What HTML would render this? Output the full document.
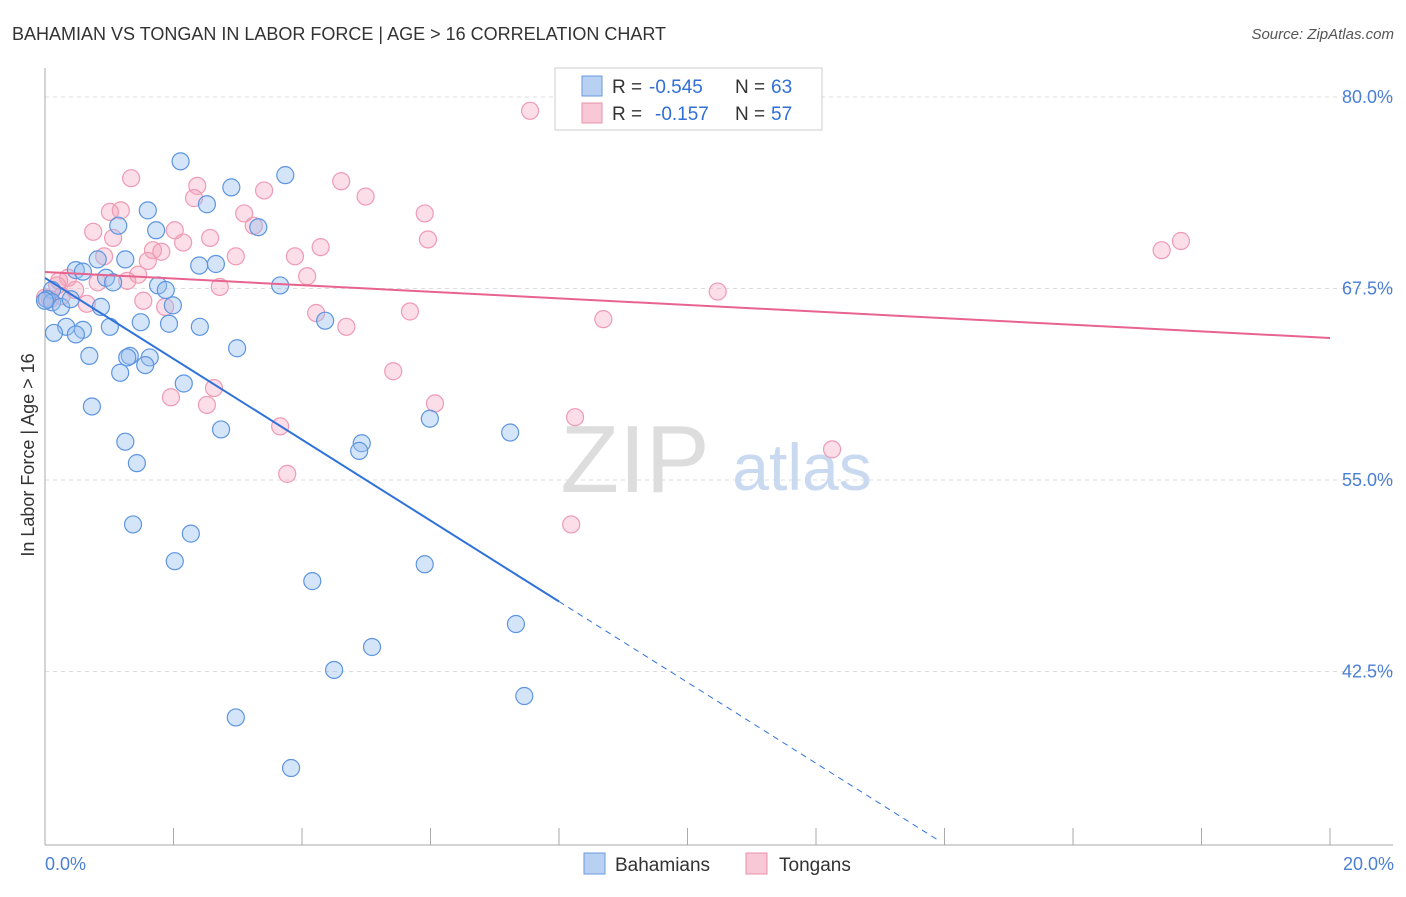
<!DOCTYPE html>
<html><head><meta charset="utf-8"><style>
body{margin:0;background:#fff;font-family:"Liberation Sans",sans-serif;overflow:hidden;}
svg text{font-family:"Liberation Sans",sans-serif;}
</style></head><body>
<svg width="1406" height="892">
<text x="12" y="40" font-size="18" fill="#333">BAHAMIAN VS TONGAN IN LABOR FORCE | AGE &gt; 16 CORRELATION CHART</text>
<text x="1394" y="39" font-size="15" fill="#555" text-anchor="end" font-style="italic">Source: ZipAtlas.com</text>
<g id="grid"></g>
<text x="635" y="492" font-size="96" fill="#ddd" font-family="Liberation Serif" text-anchor="middle">ZIP</text>
<text x="802" y="490" font-size="66" fill="#c9d9f0" text-anchor="middle">atlas</text>
<g id="pts"></g>
<g id="lines"></g>
<text x="34" y="455" font-size="18" fill="#333" text-anchor="middle" transform="rotate(-90 34 455)">In Labor Force | Age &gt; 16</text>
<text x="45" y="870" font-size="18" fill="#4a7fd4">0.0%</text>
<text x="1394" y="870" font-size="18" fill="#4a7fd4" text-anchor="end">20.0%</text>
<g>
<rect x="555" y="68" width="267" height="62" fill="#fff" stroke="#ccc"/>
<rect x="582" y="76" width="20" height="20" fill="#b8d0f2" stroke="#6a9ae0"/>
<rect x="582" y="103" width="20" height="20" fill="#f8c8d6" stroke="#e890ab"/>
<text x="612" y="93" font-size="19" fill="#333">R =</text>
<text x="649" y="93" font-size="19" fill="#2f6fd6">-0.545</text>
<text x="735" y="93" font-size="19" fill="#333">N =</text>
<text x="771" y="93" font-size="19" fill="#2f6fd6">63</text>
<text x="612" y="120" font-size="19" fill="#333">R =</text>
<text x="655" y="120" font-size="19" fill="#2f6fd6">-0.157</text>
<text x="735" y="120" font-size="19" fill="#333">N =</text>
<text x="771" y="120" font-size="19" fill="#2f6fd6">57</text>
</g>
<g>
<rect x="584" y="853" width="21" height="21" fill="#b8d0f2" stroke="#6a9ae0"/>
<text x="615" y="871" font-size="19" fill="#333">Bahamians</text>
<rect x="746" y="853" width="21" height="21" fill="#f8c8d6" stroke="#e890ab"/>
<text x="779" y="871" font-size="19" fill="#333">Tongans</text>
</g>
</svg>
<script>
const yTicks=[80,67.5,55,42.5];
const yTickLabels=["80.0%","67.5%","55.0%","42.5%"];
const xTicks=[0,2,4,6,8,10,12,14,16,18,20];
const bahX=[2.11,3.74,2.90,2.52,1.60,1.14,3.32,1.73,0.82,1.25,2.40,2.66,0.48,0.59,0.95,1.06,1.76,1.88,3.66,0.11,0.03,0.11,0.25,0.40,0.87,1.99,4.36,1.49,1.93,1.01,2.41,0.33,0.59,0.14,0.48,2.99,0.69,1.32,1.28,1.63,1.56,1.17,2.16,0.73,5.99,1.25,2.74,4.93,4.89,7.24,1.43,1.37,2.27,2.02,5.91,4.16,7.33,5.09,4.50,7.46,2.97,3.83,0];
const bahY=[75.8,74.9,74.1,73.0,72.6,71.6,71.5,71.3,69.4,69.4,69.0,69.1,68.7,68.6,68.2,67.9,67.7,67.4,67.7,67.4,66.8,66.6,66.3,66.8,66.3,66.4,65.4,65.3,65.2,65.0,65.0,65.0,64.8,64.6,64.5,63.6,63.1,63.1,63.0,63.0,62.5,62.0,61.3,59.8,59.0,57.5,58.3,57.4,56.9,58.1,56.1,52.1,51.5,49.7,49.5,48.4,45.6,44.1,42.6,40.9,39.5,36.2,66.7];
const tonX=[7.55,1.34,4.61,2.37,3.41,4.99,2.32,1.18,1.01,3.10,5.91,3.25,0.75,2.02,1.06,2.57,2.15,5.96,4.29,1.68,1.81,17.68,17.38,2.97,0.92,3.89,1.60,1.45,4.08,1.28,0.36,0.22,2.72,10.47,0.47,0.08,1.53,0.65,1.87,4.22,5.68,8.69,4.69,5.42,2.63,1.96,2.52,6.07,8.25,3.66,12.25,3.77,8.19,0.19,0.82,0.26,0];
const tonY=[79.1,74.7,74.5,74.2,73.9,73.5,73.4,72.6,72.5,72.4,72.4,71.6,71.2,71.3,70.8,70.8,70.5,70.7,70.2,70.0,69.9,70.6,70.0,69.6,69.6,69.6,69.3,68.4,68.3,68.0,68.2,68.0,67.6,67.3,67.4,66.8,66.7,66.5,66.3,65.9,66.0,65.5,65.0,62.1,61.0,60.4,59.9,60.0,59.1,58.5,57.0,55.4,52.1,67.7,67.9,67.0,66.9];
const bahFit=[68.19,-2.64];
const tonFit=[68.58,-0.2155];
const X=v=>45+v*64.25, Y=v=>97+(80-v)*15.32;
const NS="http://www.w3.org/2000/svg";
function mk(t,a,p){const e=document.createElementNS(NS,t);for(const k in a)e.setAttribute(k,a[k]);p.appendChild(e);return e;}
const grid=document.getElementById('grid');
yTicks.forEach((v,i)=>{
 const l=mk('line',{x1:45,x2:1393,y1:Y(v),y2:Y(v),stroke:'#ddd','stroke-dasharray':'4,4'},grid);
 
 
 const t=mk('text',{x:1393,y:Y(v)+6,'font-size':18,fill:'#4a7fd4','text-anchor':'end'},grid);
 t.textContent=yTickLabels[i];
 
 
});
const ax=mk('line',{x1:45,x2:45,y1:68,y2:845,stroke:'#aaa'},grid);


const bx=mk('line',{x1:45,x2:1393,y1:845,y2:845,stroke:'#aaa'},grid);


xTicks.forEach(v=>{
 const t=mk('line',{x1:X(v),x2:X(v),y1:828,y2:845,stroke:'#aaa'},grid);
 
 
});
const pts=document.getElementById('pts');
tonX.forEach((x,i)=>{
 const c=mk('circle',{cx:X(x),cy:Y(tonY[i]),r:8.5,fill:'rgba(244,160,186,0.35)',stroke:'#ef9ab4','stroke-width':1.2},pts);
 
 
});
bahX.forEach((x,i)=>{
 const c=mk('circle',{cx:X(x),cy:Y(bahY[i]),r:8.5,fill:'rgba(150,190,240,0.4)',stroke:'#5d95e0','stroke-width':1.2},pts);
 
 
});
const lines=document.getElementById('lines');
const bf=x=>bahFit[0]+bahFit[1]*x, tf=x=>tonFit[0]+tonFit[1]*x;
let l1=mk('line',{x1:X(0),y1:Y(bf(0)),x2:X(8),y2:Y(bf(8)),stroke:'#2f73d9','stroke-width':2},lines);


let l2=mk('line',{x1:X(8),y1:Y(bf(8)),x2:X(13.93),y2:Y(bf(13.93)),stroke:'#2f73d9','stroke-width':1,'stroke-dasharray':'6,5'},lines);


let l3=mk('line',{x1:X(0),y1:Y(tf(0)),x2:X(20),y2:Y(tf(20)),stroke:'#e8638e','stroke-width':2},lines);


</script>
</body></html>
